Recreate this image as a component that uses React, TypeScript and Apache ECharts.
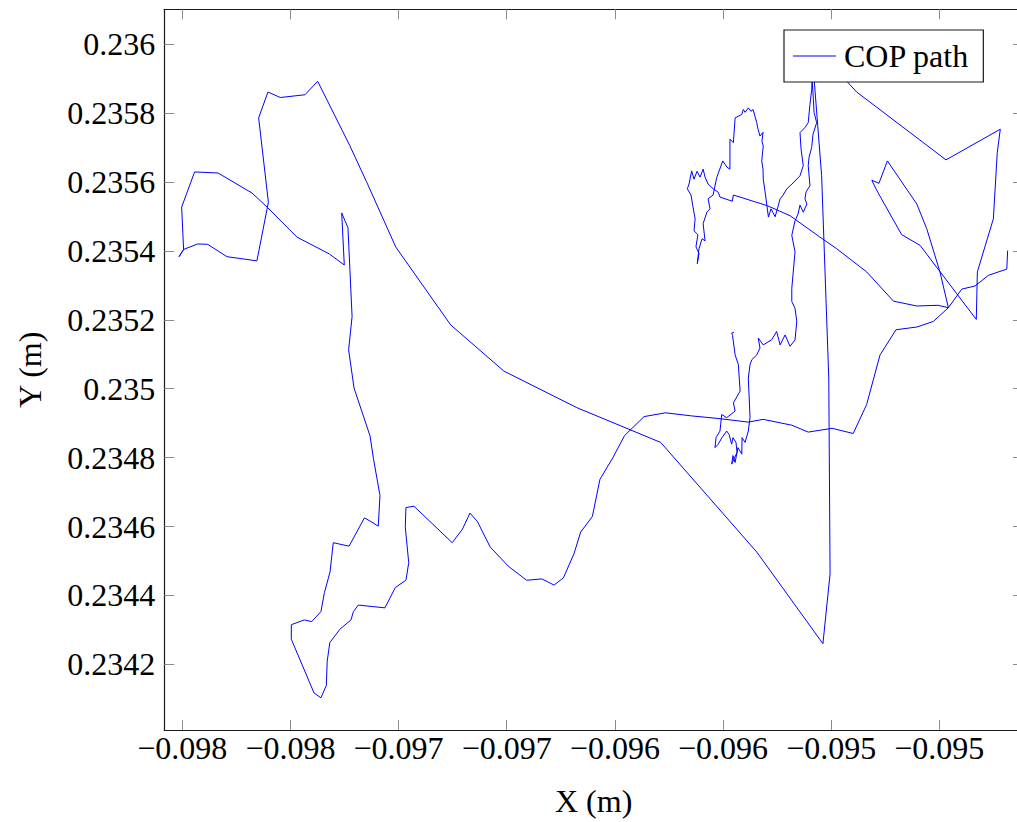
import React, { useEffect, useRef } from "react";
import * as echarts from "echarts";

// ---- axis ticks ----
const xTickValues = [-0.098, -0.0975, -0.097, -0.0965, -0.096, -0.0955, -0.095, -0.0945];
const xTickLabels = ["−0.098", "−0.098", "−0.097", "−0.097", "−0.096", "−0.096", "−0.095", "−0.095"];
const yTickValues = [0.2342, 0.2344, 0.2346, 0.2348, 0.235, 0.2352, 0.2354, 0.2356, 0.2358, 0.236];
const yTickLabels = ["0.2342", "0.2344", "0.2346", "0.2348", "0.235", "0.2352", "0.2354", "0.2356", "0.2358", "0.236"];
const xRange = [-0.0980832, -0.094113];
const yRange = [0.2340095, 0.236101];

// ---- COP path, in drawing order ----
// right hook, peak, V, and top-right diagonal
const segAX = [-0.094184, -0.094188, -0.094273, -0.094335, -0.094396, -0.094458, -0.094497, -0.094558, -0.094604, -0.09474, -0.094779, -0.094812, -0.094793, -0.094728, -0.094674, -0.094589, -0.094329, -0.094324, -0.09425, -0.094232, -0.094218, -0.094469, -0.094882, -0.094928, -0.095079];
const segAY = [0.235401, 0.235347, 0.235329, 0.235298, 0.235289, 0.235235, 0.235339, 0.235464, 0.235536, 0.235661, 0.235596, 0.235605, 0.23558, 0.235507, 0.235447, 0.235416, 0.235201, 0.235339, 0.235493, 0.235685, 0.235753, 0.235664, 0.235861, 0.235892, 0.235989];
// vertical stroke, long diagonal, left loop
const segBX = [-0.095078, -0.095044, -0.095024, -0.095011, -0.095005, -0.095038, -0.095344, -0.095788, -0.096176, -0.096513, -0.096759, -0.097013, -0.097147, -0.097226, -0.097374, -0.097433, -0.097547, -0.097604, -0.097647, -0.097602, -0.097655, -0.097793, -0.097883, -0.097929, -0.097994, -0.098015, -0.097994, -0.098003, -0.097943, -0.097835, -0.097678, -0.097608, -0.09747, -0.09732, -0.097251, -0.097263, -0.097234];
const segBY = [0.235892, 0.235618, 0.235262, 0.235031, 0.234463, 0.23426, 0.234526, 0.234844, 0.234945, 0.235051, 0.235185, 0.235411, 0.235599, 0.235706, 0.235892, 0.235853, 0.235845, 0.235861, 0.235786, 0.235541, 0.235371, 0.235383, 0.235419, 0.23542, 0.235404, 0.235383, 0.235404, 0.235527, 0.235629, 0.235626, 0.235568, 0.235527, 0.23544, 0.235391, 0.235359, 0.23551, 0.235467];
// left strip, bottom lobes, lower curve
const segCX = [-0.097215, -0.097231, -0.097206, -0.097132, -0.097117, -0.097086, -0.097094, -0.097132, -0.097158, -0.097229, -0.097302, -0.097317, -0.097343, -0.097359, -0.097402, -0.097436, -0.097496, -0.097496, -0.097391, -0.097359, -0.097334, -0.09733, -0.097318, -0.097271, -0.09722, -0.097209, -0.097186, -0.097063, -0.097015, -0.096966, -0.096953, -0.096969, -0.096966, -0.096929, -0.096752, -0.096705, -0.09667, -0.096636, -0.096577, -0.096493, -0.096408, -0.096338, -0.096281, -0.096238, -0.096189, -0.096158, -0.096104, -0.096069, -0.096009, -0.095955, -0.095865, -0.095766, -0.095645, -0.095514, -0.095383, -0.095314, -0.095182, -0.095106, -0.094996, -0.094898, -0.094836, -0.094774, -0.0947, -0.094604, -0.094528, -0.094458];
const segCY = [0.235209, 0.235113, 0.235002, 0.234863, 0.2348, 0.23469, 0.234601, 0.234616, 0.234625, 0.234543, 0.234553, 0.234468, 0.234408, 0.234353, 0.234324, 0.234329, 0.234315, 0.234273, 0.234117, 0.234103, 0.234139, 0.234209, 0.234263, 0.234302, 0.234329, 0.234353, 0.234372, 0.234364, 0.234423, 0.234444, 0.234495, 0.234598, 0.234655, 0.234659, 0.234553, 0.234592, 0.234639, 0.234615, 0.234541, 0.234485, 0.234444, 0.234448, 0.23443, 0.234451, 0.234521, 0.234584, 0.234629, 0.234737, 0.2348, 0.234864, 0.234919, 0.23493, 0.234921, 0.234913, 0.234903, 0.234911, 0.234894, 0.234874, 0.234885, 0.23487, 0.234954, 0.235098, 0.235171, 0.235179, 0.235195, 0.235235];
// crossing line into the dense cluster
const segDX = [-0.094506, -0.094604, -0.094712, -0.094836, -0.094974, -0.095052, -0.09519, -0.095295, -0.095452];
const segDY = [0.235242, 0.23524, 0.235254, 0.235339, 0.235406, 0.23544, 0.235502, 0.235531, 0.235562];
// dense jagged cluster
const segEX = [-0.095457, -0.095514, -0.095522, -0.095545, -0.095569, -0.095583, -0.095592, -0.095606, -0.09562, -0.095634, -0.095645, -0.095657, -0.095665, -0.095648, -0.095639, -0.095629, -0.095634, -0.095616, -0.095625, -0.095611, -0.095619, -0.095611, -0.095597, -0.095583, -0.095592, -0.095574, -0.09556, -0.095569, -0.095546, -0.095529, -0.095501, -0.095482, -0.095468, -0.095468, -0.095452, -0.095444, -0.095413, -0.095406, -0.095398, -0.095383, -0.095371, -0.095361, -0.095344, -0.095338, -0.095329, -0.095315, -0.09532, -0.095314, -0.095321, -0.095315, -0.095314, -0.095306, -0.095298, -0.09529, -0.095278, -0.095259, -0.095246, -0.095236, -0.095222, -0.095205, -0.095176, -0.095144, -0.095129, -0.095139, -0.095144, -0.095121, -0.095106, -0.095098, -0.09509, -0.095088, -0.095082, -0.095079, -0.095067, -0.095084, -0.09509, -0.095102, -0.095106, -0.095098, -0.095116, -0.095121, -0.095112, -0.095129, -0.095144, -0.095153, -0.095167, -0.095182, -0.095167, -0.095182, -0.095182, -0.095167, -0.095159, -0.095167, -0.09519, -0.095213, -0.095236, -0.095252, -0.095275, -0.095314, -0.095337, -0.095329, -0.095344, -0.095367, -0.095375, -0.095383, -0.09538, -0.095375, -0.095383, -0.095398, -0.095412, -0.095413, -0.095431, -0.095444, -0.095454, -0.09546, -0.095435, -0.09544, -0.095454, -0.09546, -0.095472, -0.095483, -0.095505, -0.095523, -0.095537, -0.095532, -0.095514, -0.095506, -0.095483, -0.095444, -0.095452, -0.095421, -0.095429, -0.095444, -0.095456, -0.09546, -0.095449];
const segEY = [0.235544, 0.235556, 0.23557, 0.23558, 0.235594, 0.235614, 0.235637, 0.235614, 0.235631, 0.235608, 0.235632, 0.235594, 0.23558, 0.235562, 0.235528, 0.235493, 0.235458, 0.235447, 0.235412, 0.235392, 0.235363, 0.235406, 0.235435, 0.235429, 0.235479, 0.235513, 0.235522, 0.235551, 0.235562, 0.235613, 0.235661, 0.235643, 0.235637, 0.235724, 0.235714, 0.235786, 0.235796, 0.23581, 0.235802, 0.235815, 0.235805, 0.23581, 0.235772, 0.235753, 0.235733, 0.235744, 0.235718, 0.235704, 0.235661, 0.235637, 0.235608, 0.235574, 0.235536, 0.235498, 0.235522, 0.235499, 0.235528, 0.235551, 0.235562, 0.23558, 0.235597, 0.235618, 0.235647, 0.235695, 0.235743, 0.235758, 0.235772, 0.235825, 0.235868, 0.235897, 0.235839, 0.235802, 0.235772, 0.235738, 0.2357, 0.235672, 0.235647, 0.235589, 0.235571, 0.235551, 0.235536, 0.235512, 0.235533, 0.235507, 0.235487, 0.235445, 0.235397, 0.235291, 0.235253, 0.235233, 0.235195, 0.235142, 0.235123, 0.235156, 0.235127, 0.235166, 0.235142, 0.235127, 0.235147, 0.235118, 0.235098, 0.235084, 0.23507, 0.235031, 0.234988, 0.234916, 0.234877, 0.234844, 0.234858, 0.23481, 0.234829, 0.234786, 0.234806, 0.234781, 0.234815, 0.234844, 0.234858, 0.234839, 0.234867, 0.234877, 0.234858, 0.234838, 0.234829, 0.234858, 0.234877, 0.234925, 0.234916, 0.234935, 0.234959, 0.234993, 0.23507, 0.235098, 0.235155, 0.235161, 0.235164];

const pathX = [...segAX, ...segBX, ...segCX, ...segDX, ...segEX];
const pathY = [...segAY, ...segBY, ...segCY, ...segDY, ...segEY];

const FONT = "'Liberation Serif', 'Times New Roman', serif";
const FS = 32;

function labelFor(values: number[], labels: string[], v: number): string {
  for (let i = 0; i < values.length; i++) {
    if (Math.abs(values[i] - v) < 1e-9) return labels[i];
  }
  return "";
}

export default function App() {
  const ref = useRef<HTMLDivElement>(null);
  useEffect(() => {
    if (!ref.current) return;
    const chart = echarts.init(ref.current, undefined, { renderer: "svg" });
    const tickStyle = { show: true, inside: true, length: 10, lineStyle: { color: "#8c8c8c", width: 1 } };
    const lineStyle = { show: true, lineStyle: { color: "#1a1a1a", width: 1.2 } };
    chart.setOption({
      animation: false,
      backgroundColor: "#ffffff",
      grid: { left: 164.3, top: 9.3, right: 1, bottom: 88, containLabel: false },
      legend: {
        data: ["COP path"],
        left: 784,
        top: 30,
        orient: "horizontal",
        backgroundColor: "#ffffff",
        borderColor: "#1a1a1a",
        borderWidth: 1.2,
        borderRadius: 0,
        padding: [9, 14, 9, 9],
        icon: "rect",
        itemWidth: 43,
        itemHeight: 1.2,
        itemStyle: { color: "#0000ff" },
        textStyle: { fontFamily: FONT, fontSize: FS, color: "#000", lineHeight: 34, padding: [0, 0, 0, 3] },
        z: 10,
      },
      xAxis: [
        {
          type: "value",
          position: "bottom",
          min: xRange[0],
          max: xRange[1],
          axisLine: lineStyle,
          axisTick: { ...tickStyle, customValues: xTickValues },
          splitLine: { show: false },
          axisLabel: {
            customValues: xTickValues,
            margin: 2,
            fontFamily: FONT,
            fontSize: FS,
            lineHeight: 32,
            color: "#000",
            formatter: (v: number) => labelFor(xTickValues, xTickLabels, v),
          },
          name: "X (m)",
          nameLocation: "middle",
          nameGap: 55,
          nameTextStyle: { fontFamily: FONT, fontSize: FS, color: "#000", lineHeight: 32 },
        },
        {
          type: "value",
          position: "top",
          min: xRange[0],
          max: xRange[1],
          axisLine: lineStyle,
          axisTick: { ...tickStyle, customValues: xTickValues },
          axisLabel: { show: false },
          splitLine: { show: false },
        },
      ],
      yAxis: [
        {
          type: "value",
          position: "left",
          min: yRange[0],
          max: yRange[1],
          axisLine: lineStyle,
          axisTick: { ...tickStyle, customValues: yTickValues },
          splitLine: { show: false },
          axisLabel: {
            customValues: yTickValues,
            margin: 9,
            fontFamily: FONT,
            fontSize: FS,
            color: "#000",
            formatter: (v: number) => labelFor(yTickValues, yTickLabels, v),
          },
          name: "Y (m)",
          nameLocation: "middle",
          nameGap: 118,
          nameTextStyle: { fontFamily: FONT, fontSize: FS, color: "#000", lineHeight: 32 },
        },
        {
          type: "value",
          position: "right",
          min: yRange[0],
          max: yRange[1],
          axisLine: lineStyle,
          axisTick: { ...tickStyle, customValues: yTickValues },
          axisLabel: { show: false },
          splitLine: { show: false },
        },
      ],
      series: [
        {
          name: "COP path",
          type: "line",
          xAxisIndex: 0,
          yAxisIndex: 0,
          symbol: "none",
          showSymbol: false,
          lineStyle: { color: "#0000ff", width: 1 },
          itemStyle: { color: "#0000ff" },
          data: pathX.map((x, i) => [x, pathY[i]]),
          z: 2,
        },
      ],
    });
    return () => chart.dispose();
  }, []);
  return (
    <div style={{ position: "absolute", left: 0, top: 0, width: 1017, height: 822, overflow: "hidden", background: "#fff" }}>
      <div ref={ref} style={{ width: 1024, height: 822 }} />
    </div>
  );
}
